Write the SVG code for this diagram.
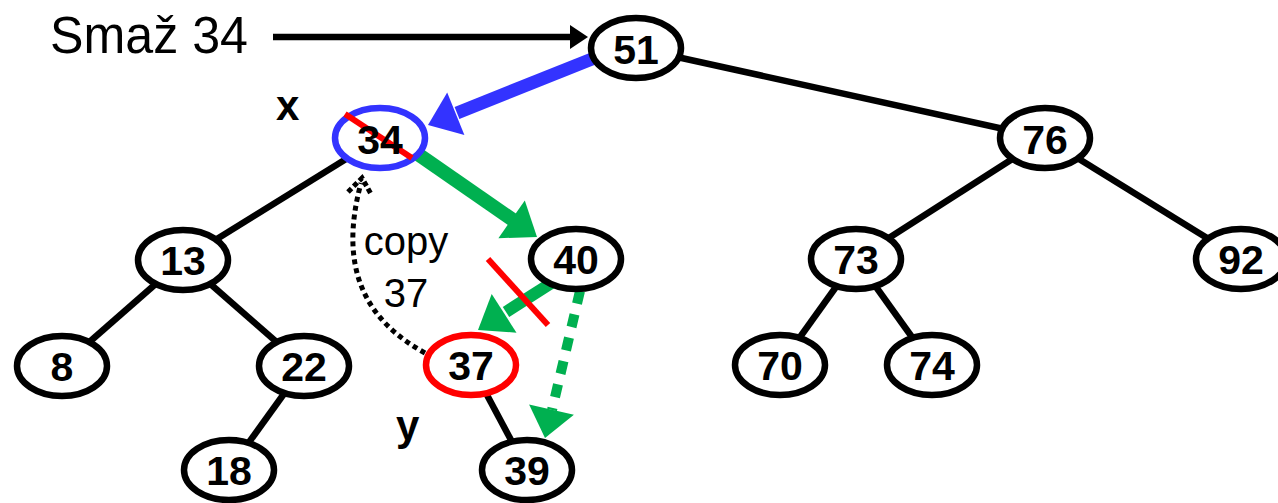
<svg xmlns="http://www.w3.org/2000/svg" width="1278" height="503" viewBox="0 0 1278 503">
<style>
.edge{stroke:#000;stroke-width:6.5;fill:none}
.node ellipse{fill:#fff;stroke:#000;stroke-width:6.5}
.node text{font-family:"Liberation Sans",Arial,sans-serif;font-weight:bold;font-size:41px;text-anchor:middle;fill:#000}
.lbl{font-family:"Liberation Sans",Arial,sans-serif;fill:#000}
.blue{stroke:#3333FF;fill:none}
.bluef{fill:#3333FF}
.green{stroke:#00B050;fill:none}
.greenf{fill:#00B050}
.strike{stroke:#FF0000;stroke-width:6}
</style>
<rect width="1278" height="503" fill="#fff"/>
<g id="connectors">
  <line class="edge" x1="636" y1="48" x2="1045" y2="138"/>
  <line class="edge" x1="380" y1="138" x2="183" y2="260"/>
  <line class="edge" x1="183" y1="260" x2="62" y2="366"/>
  <line class="edge" x1="183" y1="260" x2="304" y2="366"/>
  <line class="edge" x1="304" y1="366" x2="229" y2="470"/>
  <line class="edge" x1="471" y1="365" x2="527" y2="470"/>
  <line class="edge" x1="1045" y1="138" x2="856" y2="259"/>
  <line class="edge" x1="1045" y1="138" x2="1241" y2="259"/>
  <line class="edge" x1="856" y1="259" x2="780" y2="365"/>
  <line class="edge" x1="856" y1="259" x2="932" y2="365"/>
  <!-- Smaz arrow -->
  <line x1="273" y1="37" x2="574" y2="37" stroke="#000" stroke-width="6.5"/>
  <polygon points="570,25 588,37 570,49" fill="#000"/>
  <!-- blue arrow 51 -> 34 -->
  <line class="blue" stroke-width="13" x1="592" y1="59" x2="457" y2="113"/>
  <polygon class="bluef" points="428,125 447.2,92.5 464.4,135.1"/>
  <!-- green arrow 34 -> 40 -->
  <line class="green" stroke-width="14" x1="412" y1="150" x2="513" y2="220"/>
  <polygon class="greenf" points="537,237 524.8,200.4 498.4,238.2"/>
  <!-- green arrow 40 -> 37 -->
  <line class="green" stroke-width="12" x1="553" y1="282" x2="506" y2="312"/>
  <polygon class="greenf" points="478,330 491.7,293.9 516.5,332.7"/>
  <!-- green dashed arrow 40 -> 39 -->
  <line class="green" stroke-width="10" stroke-dasharray="13 11" x1="580" y1="291" x2="552" y2="410"/>
  <polygon class="greenf" points="545,438 529.1,404.6 573.9,414.8"/>
  <!-- dotted copy arrow 37 -> 34 -->
  <path d="M425,353 C365,320 338,268 361,183" stroke="#000" stroke-width="5" stroke-dasharray="5 4" fill="none"/>
  <polyline points="348,192 362,178 371,194" stroke="#000" stroke-width="5" stroke-dasharray="5 3" fill="none"/>
</g>
<g id="n51" class="node"><ellipse cx="636" cy="48" rx="45" ry="30"/><text x="636" y="64">51</text></g>
<g id="n34" class="node"><ellipse cx="380" cy="138" rx="45" ry="30" style="stroke:#3333FF"/><line class="strike" x1="345" y1="114" x2="412" y2="158"/><text x="380" y="154">34</text></g>
<g id="n76" class="node"><ellipse cx="1045" cy="138" rx="45" ry="30"/><text x="1045" y="154">76</text></g>
<g id="n13" class="node"><ellipse cx="183" cy="260" rx="45" ry="30"/><text x="183" y="275">13</text></g>
<g id="n40" class="node"><ellipse cx="576" cy="259" rx="45" ry="30"/><text x="576" y="274">40</text></g>
<g id="n73" class="node"><ellipse cx="856" cy="259" rx="45" ry="30"/><text x="856" y="274">73</text></g>
<g id="n92" class="node"><ellipse cx="1241" cy="259" rx="45" ry="30"/><text x="1241" y="274">92</text></g>
<g id="n8" class="node"><ellipse cx="62" cy="366" rx="45" ry="30"/><text x="62" y="381">8</text></g>
<g id="n22" class="node"><ellipse cx="304" cy="366" rx="45" ry="30"/><text x="304" y="381">22</text></g>
<g id="n37" class="node"><ellipse cx="471" cy="365" rx="45" ry="30" style="stroke:#FF0000"/><text x="471" y="380">37</text></g>
<g id="n70" class="node"><ellipse cx="780" cy="365" rx="45" ry="30"/><text x="780" y="380">70</text></g>
<g id="n74" class="node"><ellipse cx="932" cy="365" rx="45" ry="30"/><text x="932" y="380">74</text></g>
<g id="n18" class="node"><ellipse cx="229" cy="470" rx="45" ry="30"/><text x="229" y="485">18</text></g>
<g id="n39" class="node"><ellipse cx="527" cy="470" rx="45" ry="30"/><text x="527" y="485">39</text></g>
<line id="cut" class="strike" x1="488" y1="259" x2="548" y2="325"/>
<text class="lbl" x="50" y="53" font-size="51" textLength="198" lengthAdjust="spacingAndGlyphs">Smaž 34</text>
<text class="lbl" x="276" y="120" font-size="42" font-weight="bold">x</text>
<text class="lbl" x="396" y="440" font-size="42" font-weight="bold">y</text>
<text class="lbl" x="406" y="255" font-size="40" text-anchor="middle">copy</text>
<text class="lbl" x="406" y="307" font-size="40" text-anchor="middle">37</text>
</svg>
